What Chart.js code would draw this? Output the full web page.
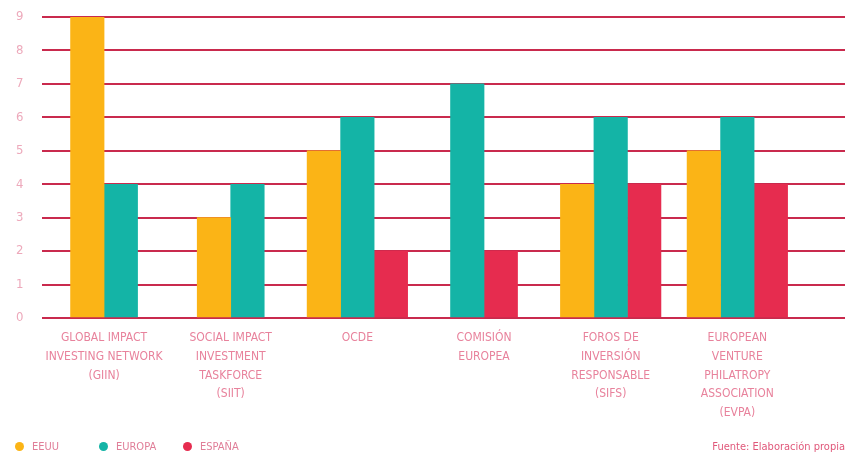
<!DOCTYPE html>
<html>
<head>
<meta charset="utf-8">
<script src="https://cdn.jsdelivr.net/npm/chart.js@4/dist/chart.umd.min.js"></script>
<style>
  html, body { margin: 0; padding: 0; background: #fff; }
  #wrap { position: relative; width: 853px; height: 457px; overflow: hidden; }
  .txt { font: 11px "Liberation Sans Narrow", "DejaVu Sans Condensed", sans-serif; color: #e0587a; }
  #fuente { position: absolute; right: 8px; top: 440px; }
  #legend { position: absolute; left: 15px; top: 440px; display: flex; }
  #legend .item { display: flex; align-items: center; width: 84px; color: #e07e98; }
  #legend .dot { width: 9px; height: 9px; border-radius: 50%; margin-right: 8px; }
</style>
</head>
<body>
<div id="wrap">
  <canvas id="myChart" width="853" height="457"></canvas>
  <div id="legend" class="txt"></div>
  <div id="fuente" class="txt">Fuente: Elaboración propia</div>
</div>
<script>
const categories = [
    ['GLOBAL IMPACT', 'INVESTING NETWORK', '(GIIN)'],
    ['SOCIAL IMPACT', 'INVESTMENT', 'TASKFORCE', '(SIIT)'],
    ['OCDE'],
    ['COMISIÓN', 'EUROPEA'],
    ['FOROS DE', 'INVERSIÓN', 'RESPONSABLE', '(SIFS)'],
    ['EUROPEAN', 'VENTURE', 'PHILATROPY', 'ASSOCIATION', '(EVPA)']
];
const eeuu = [9, 3, 5, null, 4, 5];
const europa = [4, 4, 6, 7, 6, 6];
const espana = [null, null, 2, 2, 4, 4];
const yTicks = [0, 1, 2, 3, 4, 5, 6, 7, 8, 9];

const font = '"Liberation Sans Narrow", "DejaVu Sans Condensed", sans-serif';

const ctx = document.getElementById('myChart').getContext('2d');
const myChart = new Chart(ctx, {
    type: 'bar',
    data: {
        labels: categories.map((c, i) => i),
        datasets: [
            { label: 'EEUU', data: eeuu, backgroundColor: '#fbb416' },
            { label: 'EUROPA', data: europa, backgroundColor: '#14b4a6' },
            { label: 'ESPAÑA', data: espana, backgroundColor: '#e62c4f' }
        ]
    },
    options: {
        responsive: false,
        animation: false,
        layout: { padding: { top: 17, right: 8, left: 16, bottom: 37 } },
        datasets: {
            bar: { skipNull: true, barThickness: 33.5, borderWidth: 0 }
        },
        scales: {
            x: {
                type: 'linear',
                offset: false,
                min: -0.49,
                max: 5.85,
                grid: { display: false, drawTicks: false },
                border: { display: false },
                afterBuildTicks: axis => { axis.ticks = categories.map((c, i) => ({ value: i })); },
                afterFit: axis => { axis.height = 102; },
                ticks: {
                    autoSkip: false,
                    maxRotation: 0,
                    padding: 11,
                    color: '#e8829c',
                    font: { family: font, size: 12, lineHeight: 1.55 },
                    callback: v => categories[v]
                }
            },
            y: {
                min: 0,
                max: 9,
                afterBuildTicks: axis => { axis.ticks = yTicks.map(v => ({ value: v })); },
                afterFit: axis => { axis.width = 26; },
                border: { display: false },
                grid: { color: '#c92a4d', lineWidth: 2, drawTicks: false },
                ticks: {
                    padding: 0,
                    crossAlign: 'far',
                    color: '#eda9bb',
                    font: { family: font, size: 13 }
                }
            }
        },
        plugins: {
            tooltip: { enabled: false },
            legend: { display: false }
        }
    }
});

// legend drawn as html under the chart, from the chart's own datasets
const legendEl = document.getElementById('legend');
myChart.data.datasets.forEach(ds => {
    const item = document.createElement('div');
    item.className = 'item';
    item.innerHTML = '<span class="dot" style="background:' + ds.backgroundColor + '"></span>' + ds.label;
    legendEl.appendChild(item);
});
</script>
</body>
</html>
